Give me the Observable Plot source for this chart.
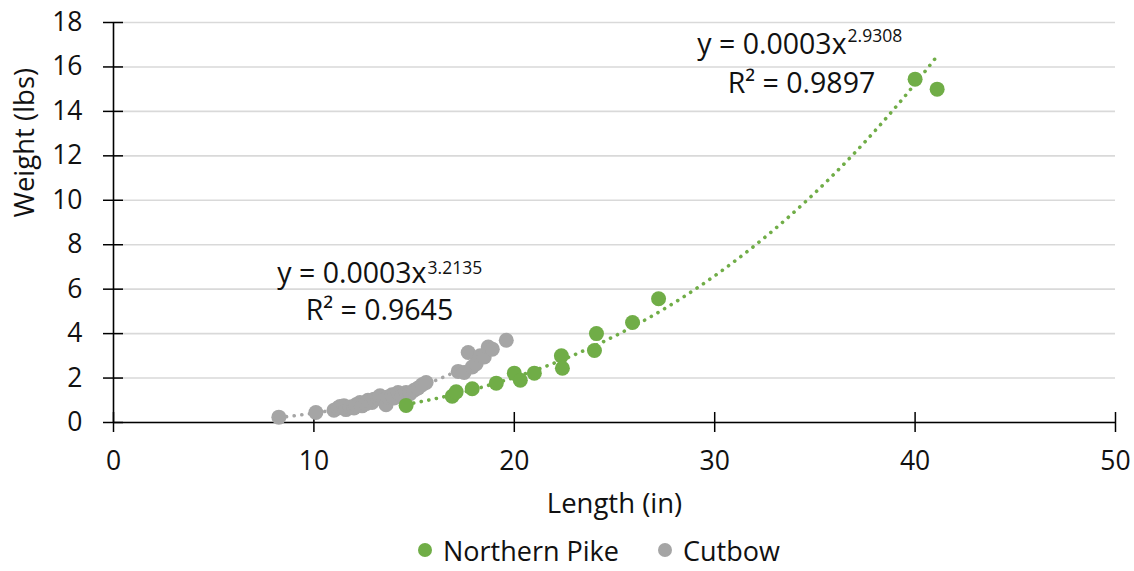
<!DOCTYPE html>
<html><head><meta charset="utf-8">
<script src="https://cdn.jsdelivr.net/npm/d3@7"></script>
<script src="https://cdn.jsdelivr.net/npm/@observablehq/plot@0.6"></script>
<style>
body{margin:0;background:#fff;font-family:"Open Sans",sans-serif;}
#chart svg{display:block;}
#legend{position:relative;height:41px;font-family:"Open Sans",sans-serif;font-size:27px;color:#111;}
#legend .item{position:absolute;top:1px;display:flex;align-items:center;height:38px;}
#legend .dot{width:14px;height:14px;border-radius:50%;margin-right:11px;}
</style></head><body><div id="chart"></div><div id="legend"></div>
<script>
// ---- data ----
const seriesNames = ["Northern Pike", "Cutbow"];
const seriesColors = ["#70AD47", "#A5A5A5"];

const pikeLength = [14.6, 16.9, 17.1, 17.9, 19.1, 20.0, 20.3, 21.0, 22.35, 22.4, 24.0, 24.1, 25.9, 27.2, 40.0, 41.1];
const pikeWeight = [0.77, 1.18, 1.38, 1.52, 1.77, 2.22, 1.9, 2.22, 3.0, 2.44, 3.24, 4.0, 4.5, 5.57, 15.45, 15.0];

const cutbowLength = [8.25, 10.1, 11.0, 11.2, 11.3, 11.5, 11.6, 11.8, 12.0, 12.1, 12.3, 12.4, 12.6, 12.7, 12.9, 13.0, 13.2, 13.3, 13.5, 13.6, 13.7, 13.9, 14.0, 14.2, 14.4, 14.6, 14.8, 15.0, 15.2, 15.4, 15.6, 17.2, 17.5, 17.7, 17.9, 18.1, 18.3, 18.5, 18.7, 18.9, 19.6];
const cutbowWeight = [0.24, 0.45, 0.55, 0.65, 0.72, 0.75, 0.58, 0.7, 0.65, 0.8, 0.9, 0.75, 0.85, 1.0, 0.9, 1.05, 1.1, 1.2, 1.0, 0.8, 1.15, 1.25, 1.1, 1.35, 1.2, 1.35, 1.3, 1.45, 1.55, 1.7, 1.8, 2.3, 2.25, 3.15, 2.5, 2.65, 3.0, 2.95, 3.4, 3.3, 3.7];

const xTicks = [0, 10, 20, 30, 40, 50];
const yTicks = [0, 2, 4, 6, 8, 10, 12, 14, 16, 18];

const pikeEquation = ["y = 0.0003x", "2.9308", "R\u00B2 = 0.9897"];
const cutbowEquation = ["y = 0.0003x", "3.2135", "R\u00B2 = 0.9645"];

// ---- power trendline fitted in log space (as Excel does) ----
function powerFit(xs, ys) {
  const lx = xs.map(Math.log), ly = ys.map(Math.log);
  const mx = d3.mean(lx), my = d3.mean(ly);
  const b = d3.sum(lx, (v, i) => (v - mx) * (ly[i] - my)) / d3.sum(lx, v => (v - mx) ** 2);
  const a = Math.exp(my - b * mx);
  const [x0, x1] = d3.extent(xs);
  return d3.range(0, 201).map(i => { const x = x0 + (x1 - x0) * i / 200; return {x, y: a * Math.pow(x, b)}; });
}

const pike = pikeLength.map((x, i) => ({x, y: pikeWeight[i]}));
const cutbow = cutbowLength.map((x, i) => ({x, y: cutbowWeight[i]}));
const pikeTrend = powerFit(pikeLength, pikeWeight);
const cutbowTrend = powerFit(cutbowLength, cutbowWeight);

const font = "'Open Sans', sans-serif";
const trendStyle = {strokeWidth: 3.6, strokeLinecap: "round", strokeDasharray: "0.1 7.6"};

const plot = Plot.plot({
  width: 1134,
  height: 530,
  marginLeft: 113,
  marginRight: 19,
  marginTop: 22,
  marginBottom: 108,
  style: {fontFamily: font, background: "#fff", color: "#111"},
  x: {domain: [0, 50], ticks: xTicks},
  y: {domain: [0, 18], ticks: yTicks},
  marks: [
    Plot.gridY(yTicks, {stroke: "#d9d9d9", strokeOpacity: 1, strokeWidth: 1.6}),
    Plot.axisY(yTicks, {tickSize: 20, dx: 10, tickPadding: 21, fontSize: 26.5, label: null, stroke: "#000", strokeWidth: 1.5, fill: "#111"}),
    Plot.axisX(xTicks, {tickSize: 20, dy: -10, tickPadding: 19, fontSize: 26.5, label: null, stroke: "#000", strokeWidth: 1.5, fill: "#111"}),
    Plot.ruleY([0], {stroke: "#000", strokeWidth: 1.6}),
    Plot.ruleX([0], {stroke: "#000", strokeWidth: 1.6}),
    Plot.line(cutbowTrend, {x: "x", y: "y", stroke: seriesColors[1], ...trendStyle}),
    Plot.line(pikeTrend, {x: "x", y: "y", stroke: seriesColors[0], ...trendStyle}),
    Plot.dot(cutbow, {x: "x", y: "y", r: 7.5, fill: seriesColors[1]}),
    Plot.dot(pike, {x: "x", y: "y", r: 7.5, fill: seriesColors[0]}),
    // axis titles
    Plot.text(["Length (in)"], {frameAnchor: "bottom", dy: 90, fontSize: 27.5, fill: "#111"}),
    Plot.text(["Weight (lbs)"], {frameAnchor: "left", rotate: -90, dx: -88, dy: -5, fontSize: 27.5, fill: "#111"}),
    // trendline equations
    Plot.text([pikeEquation[0]], {x: 36.58, y: 17.01, textAnchor: "end", fontSize: 28.5, fill: "#111"}),
    Plot.text([pikeEquation[1]], {x: 36.58, y: 17.36, dx: 1, textAnchor: "start", fontSize: 17.5, fill: "#111"}),
    Plot.text([pikeEquation[2]], {x: 34.33, y: 15.24, textAnchor: "middle", fontSize: 28.5, fill: "#111"}),
    Plot.text([cutbowEquation[0]], {x: 15.62, y: 6.69, textAnchor: "end", fontSize: 28.5, fill: "#111"}),
    Plot.text([cutbowEquation[1]], {x: 15.62, y: 6.95, dx: 1, textAnchor: "start", fontSize: 17.5, fill: "#111"}),
    Plot.text([cutbowEquation[2]], {x: 13.27, y: 5.04, textAnchor: "middle", fontSize: 28.5, fill: "#111"})
  ]
});
document.getElementById("chart").appendChild(plot);

// legend below the plot
const legend = document.getElementById("legend");
const legendLeft = [418, 658];
seriesNames.forEach((name, i) => {
  const item = document.createElement("div");
  item.className = "item";
  item.style.left = legendLeft[i] + "px";
  const dot = document.createElement("span");
  dot.className = "dot";
  dot.style.background = seriesColors[i];
  const label = document.createElement("span");
  label.textContent = name;
  item.appendChild(dot); item.appendChild(label);
  legend.appendChild(item);
});
</script>
</body></html>
